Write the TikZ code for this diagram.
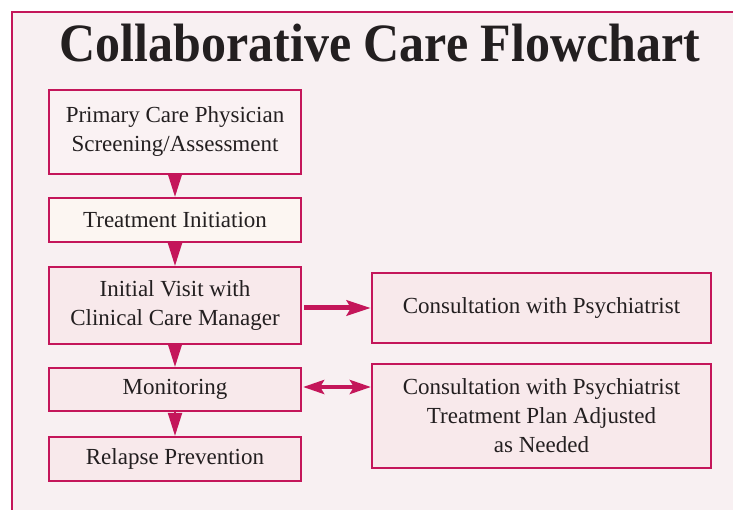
\documentclass[tikz,border=0pt]{standalone}
\usepackage{fontspec}
\setmainfont{Liberation Serif}
\usetikzlibrary{arrows.meta}
\definecolor{crim}{RGB}{196,22,90}
\definecolor{bgpink}{RGB}{248,240,242}
\definecolor{boxpink}{RGB}{248,233,235}
\definecolor{boxlight}{RGB}{250,242,243}
\definecolor{boxcream}{RGB}{252,246,242}
\definecolor{txt}{RGB}{35,31,32}
\tikzset{
  flowbox/.style={draw=crim, line width=2.2pt, fill=boxpink, text=txt, align=center,
    inner sep=0pt, font=\fontsize{23}{29}\selectfont},
  downarrow/.style={crim, line width=2pt, -{Triangle[width=14pt,length=23pt]}},
  sidearrow/.style={crim, line width=5pt, -{Stealth[width=15pt,length=24pt,inset=4pt]}},
  bothway/.style={crim, line width=4pt, {Stealth[width=14pt,length=21pt,inset=4pt]}-{Stealth[width=14pt,length=21pt,inset=4pt]}}
}
\begin{document}
\begin{tikzpicture}[x=1pt,y=-1pt]
\useasboundingbox (0,0) rectangle (733,510);
\fill[white] (0,0) rectangle (733,510);
\fill[bgpink] (12,12) rectangle (733,510);
\draw[crim, line width=2pt] (12,510) -- (12,12) -- (733,12);
\node[anchor=base, text=txt, font=\fontsize{50}{50}\selectfont\bfseries] (title) at (380,62) {\scalebox{1}[1.08]{Collaborative Care Flowchart}};
\node[flowbox, fill=boxlight, minimum width=252, minimum height=84] (b1) at (175,132) {Primary Care Physician\\Screening/Assessment};
\node[flowbox, fill=boxcream, minimum width=252, minimum height=44] (b2) at (175,220) {Treatment Initiation};
\node[flowbox, minimum width=252, minimum height=77] (b3) at (175,305.5) {Initial Visit with\\Clinical Care Manager};
\node[flowbox, minimum width=252, minimum height=43] (b4) at (175,389.5) {Monitoring};
\node[flowbox, minimum width=252, minimum height=44] (b5) at (175,459) {Relapse Prevention};
\node[flowbox, minimum width=339, minimum height=70] (ca) at (541.5,308) {Consultation with Psychiatrist};
\node[flowbox, minimum width=339, minimum height=104] (cb) at (541.5,416) {Consultation with Psychiatrist\\Treatment Plan Adjusted\\as Needed};
\draw[downarrow] (b1.south) -- (b2.north);
\draw[downarrow] (b2.south) -- (b3.north);
\draw[downarrow] (b3.south) -- (b4.north);
\draw[downarrow] (b4.south) -- (b5.north);
\draw[sidearrow] ([xshift=2pt]b3.east |- ca.west) -- (ca.west);
\draw[bothway] ([xshift=1pt]b4.east |- 0,387) -- (ca.west |- 0,387);
\end{tikzpicture}
\end{document}
